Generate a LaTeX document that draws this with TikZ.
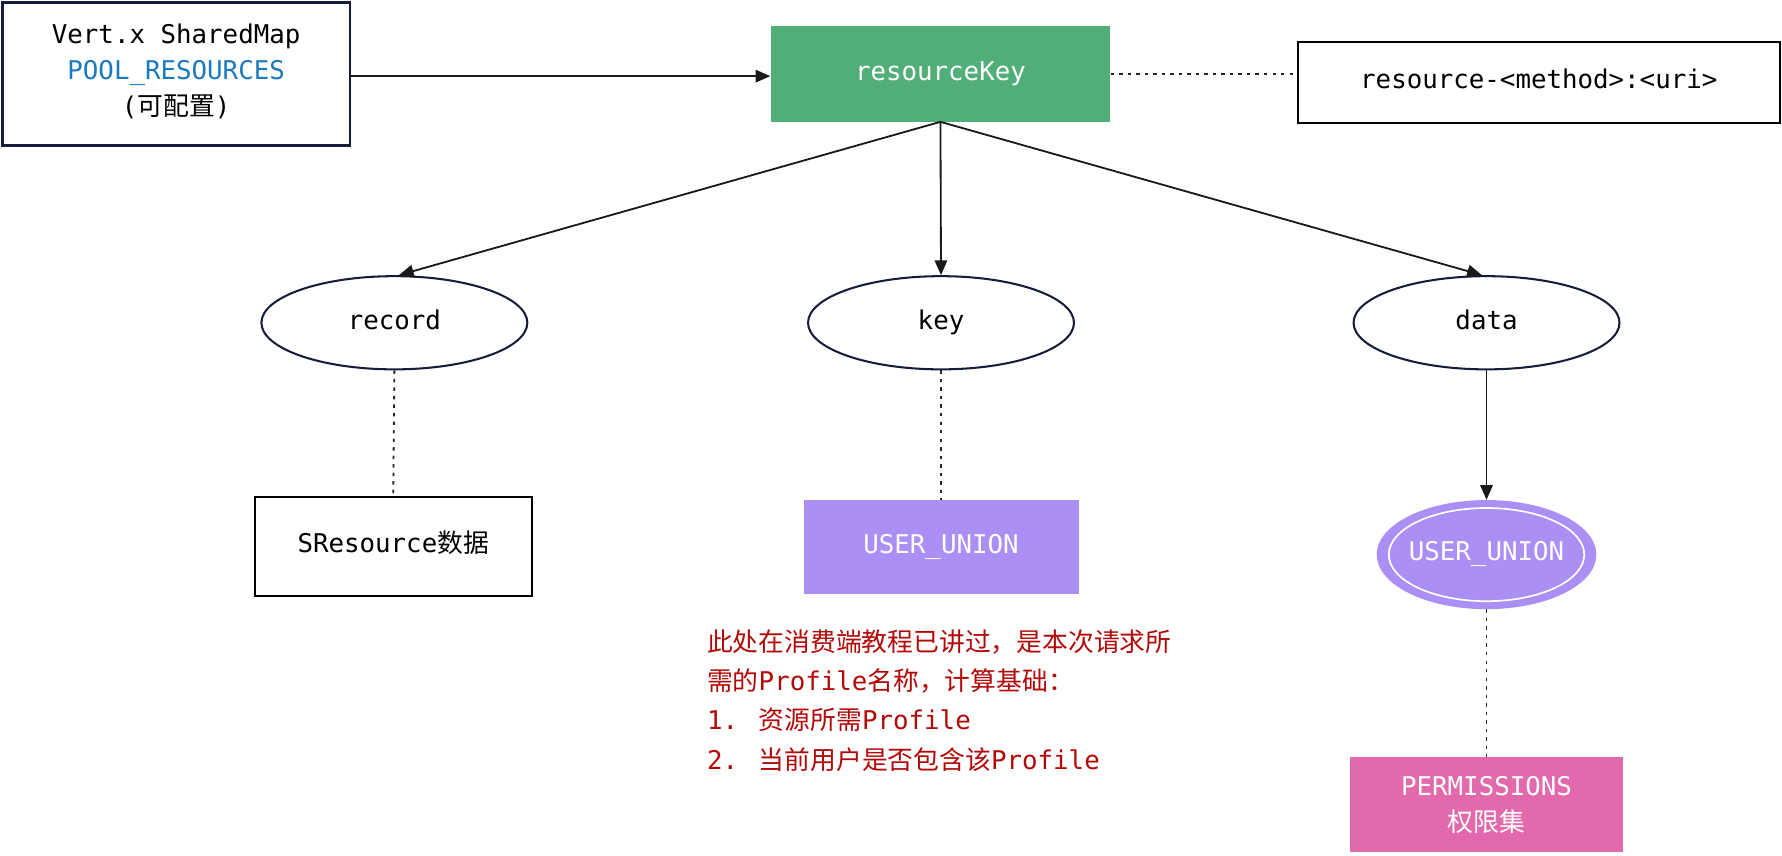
\documentclass[tikz,border=0pt]{standalone}
\usepackage{fontspec}
\setmainfont{DejaVu Sans Mono}
\newfontfamily\cjk{Noto Sans CJK SC}
\usetikzlibrary{shapes.geometric,arrows.meta}
\definecolor{navy}{RGB}{22,28,58}
\definecolor{kgreen}{RGB}{82,174,120}
\definecolor{kpurple}{RGB}{171,143,245}
\definecolor{kpink}{RGB}{226,106,172}
\definecolor{kblue}{RGB}{27,122,191}
\definecolor{kred}{RGB}{178,8,8}
\tikzset{
  every node/.style={font=\fontsize{22.7}{31.5}\selectfont},
  tt/.style={text height=16pt,text depth=5pt},
  plainbox/.style={draw=black,line width=1.8pt,fill=white,tt},
  ell/.style={ellipse,draw=navy,line width=1.8pt,minimum width=234pt,minimum height=82pt,inner sep=0pt,tt},
  arr/.style={-{Triangle[length=13pt,width=11pt]},line width=1.6pt,draw=black!90},
  dotline/.style={line width=1.6pt,dash pattern=on 3pt off 4.5pt,draw=black!85},
}
\begin{document}
\begin{tikzpicture}[x=1pt,y=-1pt]
\useasboundingbox (0,0) rectangle (1568,753);
% source box
\draw[draw=navy,line width=2.5pt,fill=white] (2.5,2.5) rectangle (308,128);
\node[inner sep=0pt,align=center] (src) at (155,63) {Vert.x SharedMap\\\textcolor{kblue}{POOL\_RESOURCES}\\({\cjk 可配置})};
\coordinate (srcE) at (308,67);
% resourceKey
\node[fill=kgreen,minimum width=299pt,minimum height=84pt,inner sep=0pt,text=white,tt] (rk) at (827.5,65) {resourceKey};
\node[plainbox,minimum width=424pt,minimum height=71pt,inner sep=0pt] (fmt) at (1354,72.5) {resource-<method>:<uri>};
\draw[arr] (srcE) -- (srcE -| rk.west);
\coordinate (rkE) at (rk.east |- 0,65);
\coordinate (fmtW) at (fmt.west |- 0,65);
\draw[dotline] (rkE) -- (fmtW);
% ellipses
\node[ell] (record) at (347,284) {record};
\node[ell] (key) at (828,284) {key};
\node[ell] (data) at (1308,284) {data};
\draw[arr] (rk.south) -- ([xshift=4pt]record.north);
\draw[arr] (rk.south) -- (key.north);
\draw[arr] (rk.south) -- ([xshift=-4pt]data.north);
% lower boxes
\node[plainbox,minimum width=244pt,minimum height=87pt,inner sep=0pt] (sres) at (346,480.5) {SResource{\cjk 数据}};
\node[fill=kpurple,minimum width=242pt,minimum height=83pt,inner sep=0pt,text=white,tt] (uu) at (828,481.5) {USER\_UNION};
\node[ellipse,fill=kpurple,minimum width=188pt,minimum height=96pt,inner sep=0pt,text=white,tt] (ue) at (1308,488) {USER\_UNION};
\draw[white,line width=1.5pt] (ue.center) ellipse (86 and 41);
\node[fill=kpink,minimum width=240pt,minimum height=84pt,inner sep=0pt,text=white,align=center] (perm) at (1308,708) {PERMISSIONS\\{\cjk 权限集}};
\draw[dotline] (record.south) -- (sres.north);
\draw[dotline] (key.south) -- (uu.north);
\draw[arr] (data.south) -- (ue.north);
\draw[dotline] (ue.south) -- (perm.north);
% note
\node[anchor=west,inner sep=0pt,align=left,text=kred,font=\fontsize{22.7}{34.5}\selectfont] (note) at (622,616.5)
{{\cjk 此处在消费端教程已讲过，是本次请求所}\\{\cjk 需的}Profile{\cjk 名称，计算基础：}\\1. {\cjk 资源所需}Profile\\2. {\cjk 当前用户是否包含该}Profile};
\end{tikzpicture}
\end{document}
